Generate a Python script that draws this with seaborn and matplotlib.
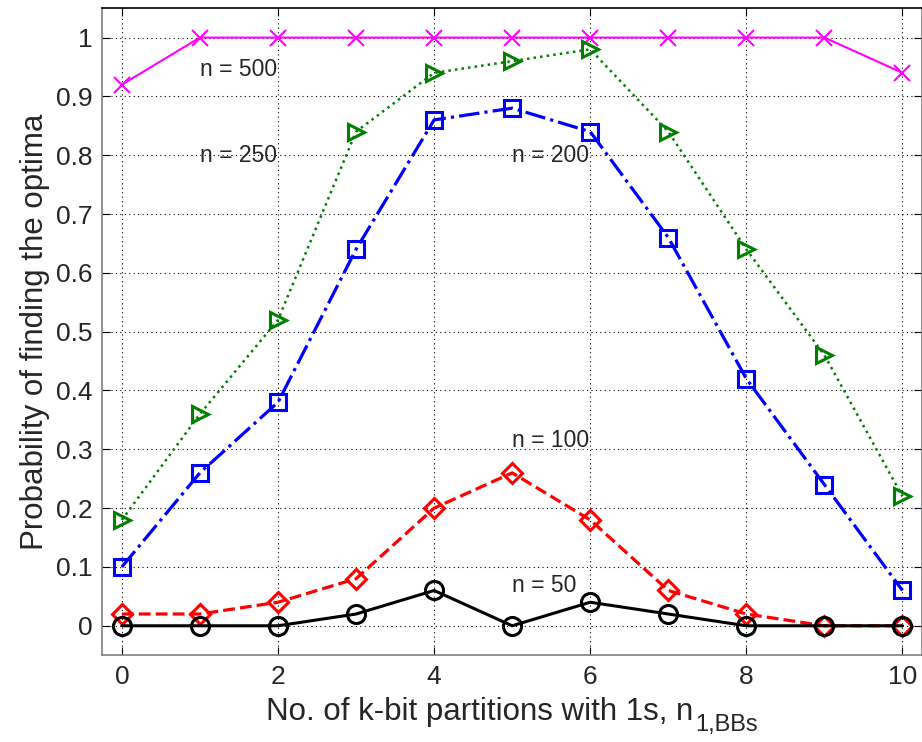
import numpy as np
import pandas as pd
import matplotlib
matplotlib.use("Agg")
import matplotlib.pyplot as plt
import seaborn as sns

# data
n_bbs = list(range(11))
p_n500 = [0.92, 1, 1, 1, 1, 1, 1, 1, 1, 1, 0.94]
p_n250 = [0.18, 0.36, 0.52, 0.84, 0.94, 0.96, 0.98, 0.84, 0.64, 0.46, 0.22]
p_n200 = [0.10, 0.26, 0.38, 0.64, 0.86, 0.88, 0.84, 0.66, 0.42, 0.24, 0.06]
p_n100 = [0.02, 0.02, 0.04, 0.08, 0.20, 0.26, 0.18, 0.06, 0.02, 0.0, 0.0]
p_n50 = [0, 0, 0, 0.02, 0.06, 0, 0.04, 0.02, 0, 0, 0]

sns.set_style("white")
plt.rcParams["font.family"] = ["Liberation Sans", "DejaVu Sans"]

fig = plt.figure(figsize=(9.22, 7.42), dpi=100)
ax = fig.add_axes([0.111, 0.117, 0.889, 0.872])

# (values, color, linestyle, marker, linewidth, markersize)
series = [
    (p_n500, "#ff00ff", "-", "x", 1.5, 11),
    (p_n250, "#008000", ":", ">", 1.8, 12),
    (p_n200, "#0000ff", "-.", "s", 2.3, 11),
    (p_n100, "#ff0000", "--", "D", 2.3, 10.5),
    (p_n50, "#000000", "-", "o", 2.2, 13),
]
for vals, col, ls, mk, lw, ms in series:
    df = pd.DataFrame({"x": n_bbs, "y": vals})
    sns.lineplot(data=df, x="x", y="y", ax=ax, color=col, linestyle=ls,
                 linewidth=lw, marker=mk, markersize=ms,
                 markerfacecolor="none", markeredgecolor=col,
                 markeredgewidth=2.2 if mk != "x" else 1.5, clip_on=False)

labels = [("n = 500", 1.0, 0.945), ("n = 250", 1.0, 0.80), ("n = 200", 5.0, 0.80),
          ("n = 100", 5.0, 0.315), ("n = 50", 5.0, 0.068)]
for txt, x, y in labels:
    ax.text(x, y, txt, fontsize=16.5, va="center", ha="left")

ax.set_xlim(-0.25, 10.25)
ax.set_ylim(-0.05, 1.05)
ax.set_xticks(range(0, 11, 2))
ax.set_yticks(np.arange(0, 1.01, 0.1))
ax.set_yticklabels(["0", "0.1", "0.2", "0.3", "0.4", "0.5", "0.6", "0.7", "0.8", "0.9", "1"])
ax.grid(True, color="black", linestyle=(0, (1, 3)), linewidth=0.8)
ax.tick_params(direction="in", length=6, labelsize=19, top=True, right=True,
               bottom=True, left=True, color="black", pad=7)
for s in ax.spines.values():
    s.set_color("#808080")
    s.set_linewidth(1.2)
ax.spines["top"].set_color("black")
ax.set_ylabel("Probability of finding the optima", fontsize=22.5, labelpad=4)
ax.set_xlabel("No. of k-bit partitions with 1s, n", fontsize=22.5)
ax.xaxis.label.set_ha("left")
ax.xaxis.label.set_va("baseline")

# large subscript after the x label, whole label centred under the axes
sub = fig.text(0, 11, "1,BBs", fontsize=17, ha="left", va="baseline", transform=None)
fig.canvas.draw()
w_main = ax.xaxis.label.get_window_extent().width
w_sub = sub.get_window_extent().width
ax_bb = ax.get_window_extent()
x_start = (ax_bb.x0 + ax_bb.x1) / 2 - (w_main + w_sub + 2) / 2
ax.xaxis.set_label_coords((x_start - ax_bb.x0) / ax_bb.width,
                          -65 / ax_bb.height, transform=ax.transAxes)
sub.set_x(x_start + w_main + 2)

fig.savefig("out.png", dpi=100)
